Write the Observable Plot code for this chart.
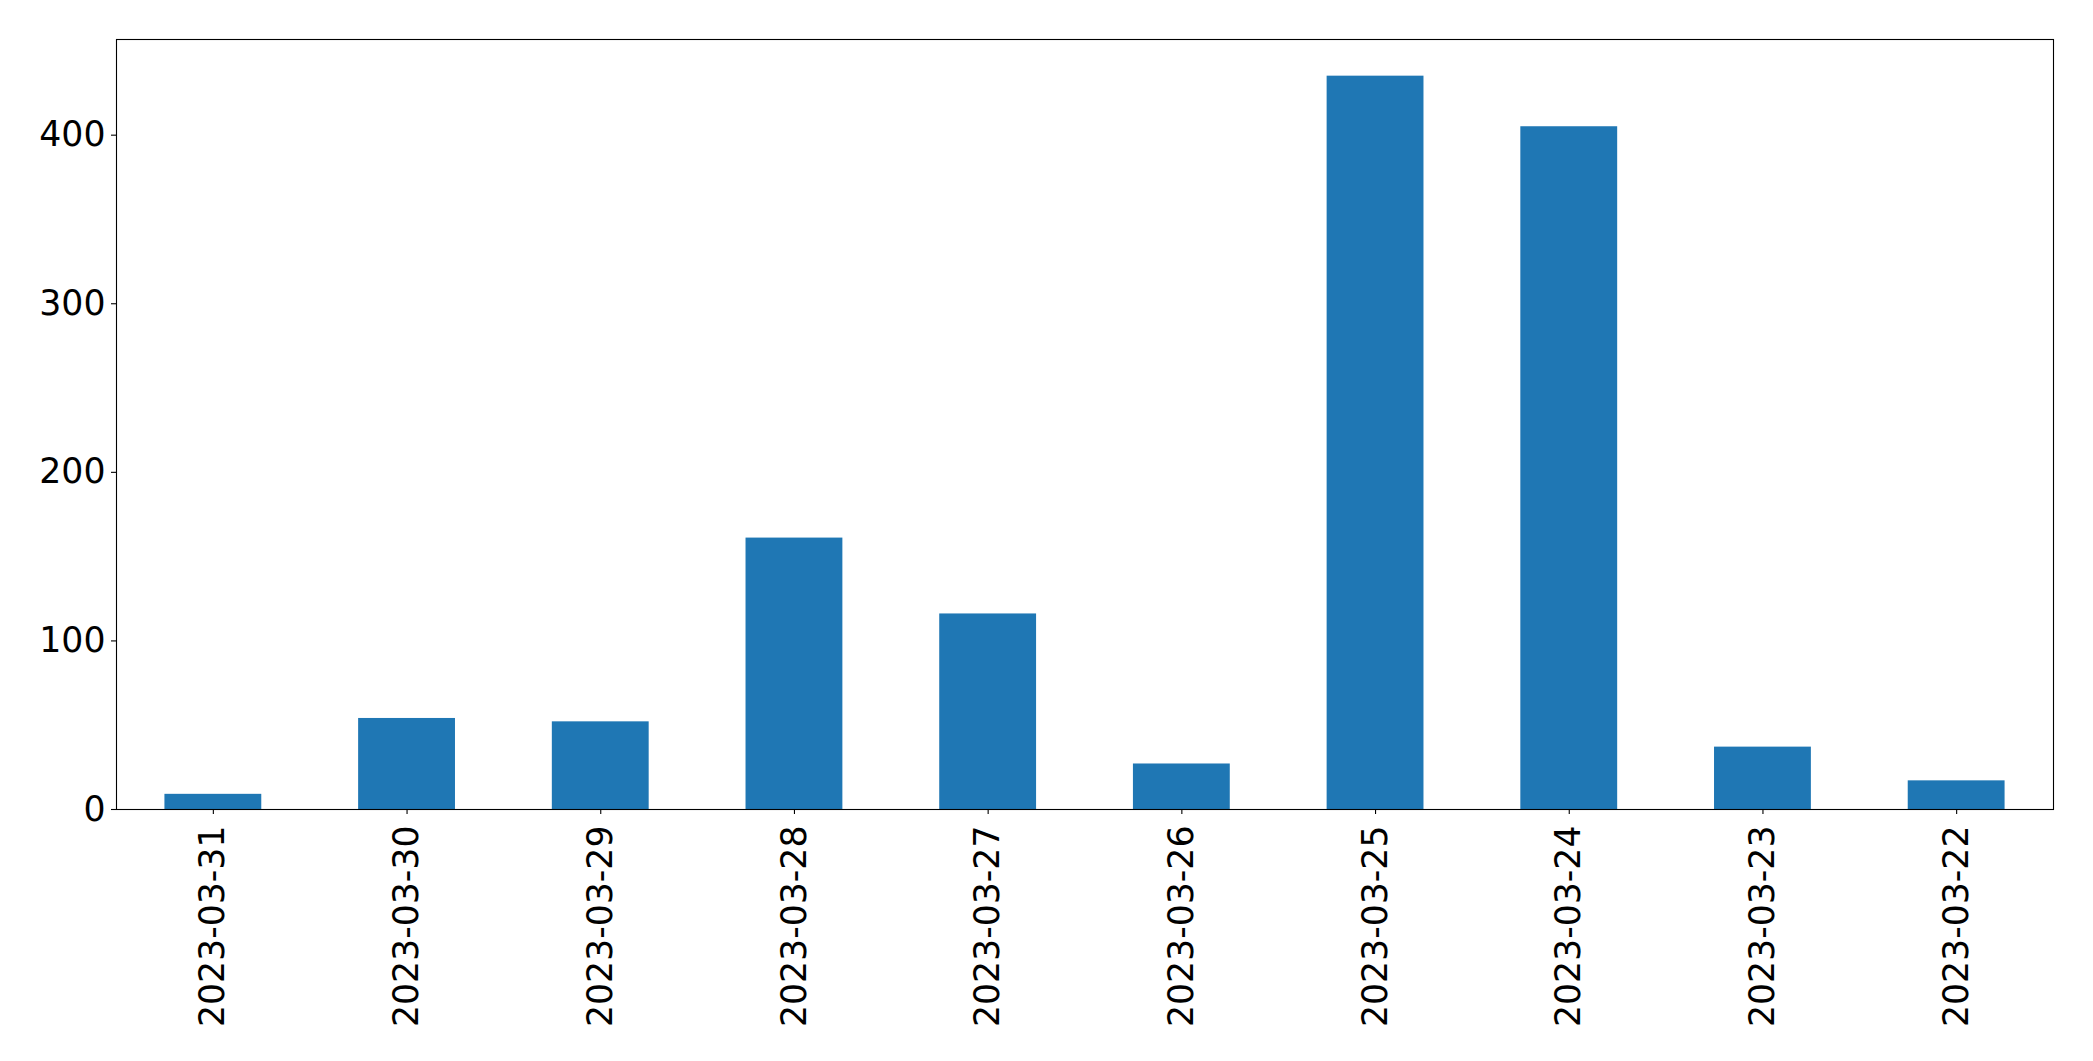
<!DOCTYPE html>
<html>
<head>
<meta charset="utf-8">
<script src="https://cdn.jsdelivr.net/npm/d3@7"></script>
<script src="https://cdn.jsdelivr.net/npm/@observablehq/plot@0.6"></script>
<style>
  html, body { margin: 0; padding: 0; background: #fff; }
  #chart svg { display: block; }
</style>
</head>
<body>
<div id="chart"></div>
<script>
const dates = ["2023-03-31", "2023-03-30", "2023-03-29", "2023-03-28", "2023-03-27",
               "2023-03-26", "2023-03-25", "2023-03-24", "2023-03-23", "2023-03-22"];
const counts = [9, 54, 52, 161, 116, 27, 435, 405, 37, 17];
const yTicks = [0, 100, 200, 300, 400];

const data = dates.map((d, i) => ({date: d, count: counts[i]}));
const yMax = d3.max(counts) * 1.05;

const chart = Plot.plot({
  width: 2093,
  height: 1061,
  marginLeft: 116,
  marginRight: 40,
  marginTop: 39,
  marginBottom: 252,
  style: {fontFamily: "DejaVu Sans", fontSize: "34.7px", color: "#000", background: "#fff"},
  x: {domain: dates, paddingInner: 0.5, paddingOuter: 0.25, round: false, label: null},
  y: {domain: [0, yMax], label: null},
  marks: [
    Plot.barY(data, {x: "date", y: "count", fill: "#1f77b4"}),
    Plot.axisX({tickRotate: -90, tickSize: 5, tickPadding: 11, label: null, stroke: "#000", strokeWidth: 1.1}),
    Plot.axisY({ticks: yTicks, tickSize: 5, tickPadding: 6, label: null, stroke: "#000", strokeWidth: 1.1}),
    Plot.frame({stroke: "#000", strokeWidth: 1.1})
  ]
});
document.getElementById("chart").appendChild(chart);
</script>
</body>
</html>
